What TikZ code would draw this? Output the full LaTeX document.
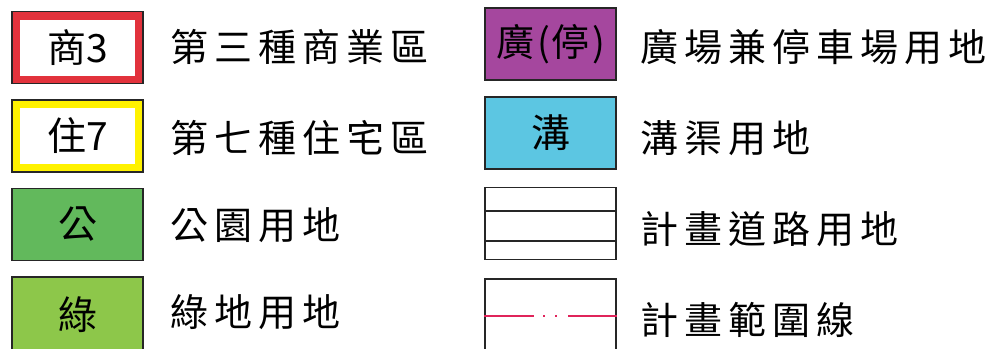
\documentclass[tikz,border=0pt]{standalone}
\usepackage{fontspec}
\usetikzlibrary{calc}
\setmainfont{Noto Sans CJK TC}
\newfontfamily\lblfont[LetterSpace=16]{Noto Sans CJK TC}
\definecolor{redC}{HTML}{E2323C}
\definecolor{yelC}{HTML}{FFF200}
\definecolor{grnA}{HTML}{62B95C}
\definecolor{grnB}{HTML}{8DC74A}
\definecolor{purC}{HTML}{A5479E}
\definecolor{cyaC}{HTML}{5CC6E2}
\definecolor{bndC}{HTML}{E0245A}
\begin{document}
\begin{tikzpicture}[x=1pt,y=-1pt,
  legbox/.style={draw=black!85,line width=1.3pt,minimum width=131pt,minimum height=72pt,inner sep=0pt,font=\fontsize{39}{39}\selectfont},
  inbox/.style={fill=white,minimum width=115pt,minimum height=56pt,inner sep=0pt,font=\fontsize{39}{39}\selectfont},
  lbl/.style={anchor=west,inner sep=0pt,font=\fontsize{38}{38}\lblfont}]
\useasboundingbox (0,0) rectangle (987,348);
\clip (0,0) rectangle (987,348);
% left column
\node[legbox,fill=redC] (b1) at (77.5,47.5) {};
\node[inbox] (b1i) at (b1) {商3};
\node[legbox,fill=yelC] (b2) at (77.5,136) {};
\node[inbox] (b2i) at (b2) {住7};
\node[legbox,fill=grnA] (b3) at (77.5,224.5) {公};
\node[legbox,fill=grnB,minimum height=76pt] (b4) at (77.5,315) {綠};
\node[lbl] (l1) at (170,47) {第三種商業區};
\node[lbl] (l2) at (170,138) {第七種住宅區};
\node[lbl] (l3) at (170,225) {公園用地};
\node[lbl] (l4) at (170,312) {綠地用地};
% right column
\node[legbox,fill=purC,font=\fontsize{38}{38}\selectfont] (r1) at (550.5,44) {廣\hspace{3pt}(\hspace{2pt}停\hspace{2pt})};
\node[legbox,fill=cyaC] (r2) at (550.5,133) {溝};
\node[legbox,fill=white] (r3) at (550.5,223.5) {};
\draw[black!85,line width=1.3pt] (r3.west |- 0,211) -- (r3.east |- 0,211);
\draw[black!85,line width=1.3pt] (r3.west |- 0,241) -- (r3.east |- 0,241);
\node[legbox,fill=white,minimum height=76pt] (r4) at (550.5,317) {};
\coordinate (p0) at (r4.west |- 0,316);
\coordinate (p1) at (r4.east |- 0,316);
\draw[bndC,line width=1.3pt] (p0) -- ++(50,0);
\draw[bndC,line width=1.3pt] (p1) -- ++(-49,0);
\draw[bndC,line width=1.3pt] ($(p0)+(59,0)$) -- ++(2,0);
\draw[bndC,line width=1.3pt] ($(p0)+(71,0)$) -- ++(2,0);
\node[lbl] (m1) at (640,47) {廣場兼停車場用地};
\node[lbl] (m2) at (640,138) {溝渠用地};
\node[lbl] (m3) at (640,229) {計畫道路用地};
\node[lbl] (m4) at (640,320) {計畫範圍線};
\end{tikzpicture}
\end{document}
